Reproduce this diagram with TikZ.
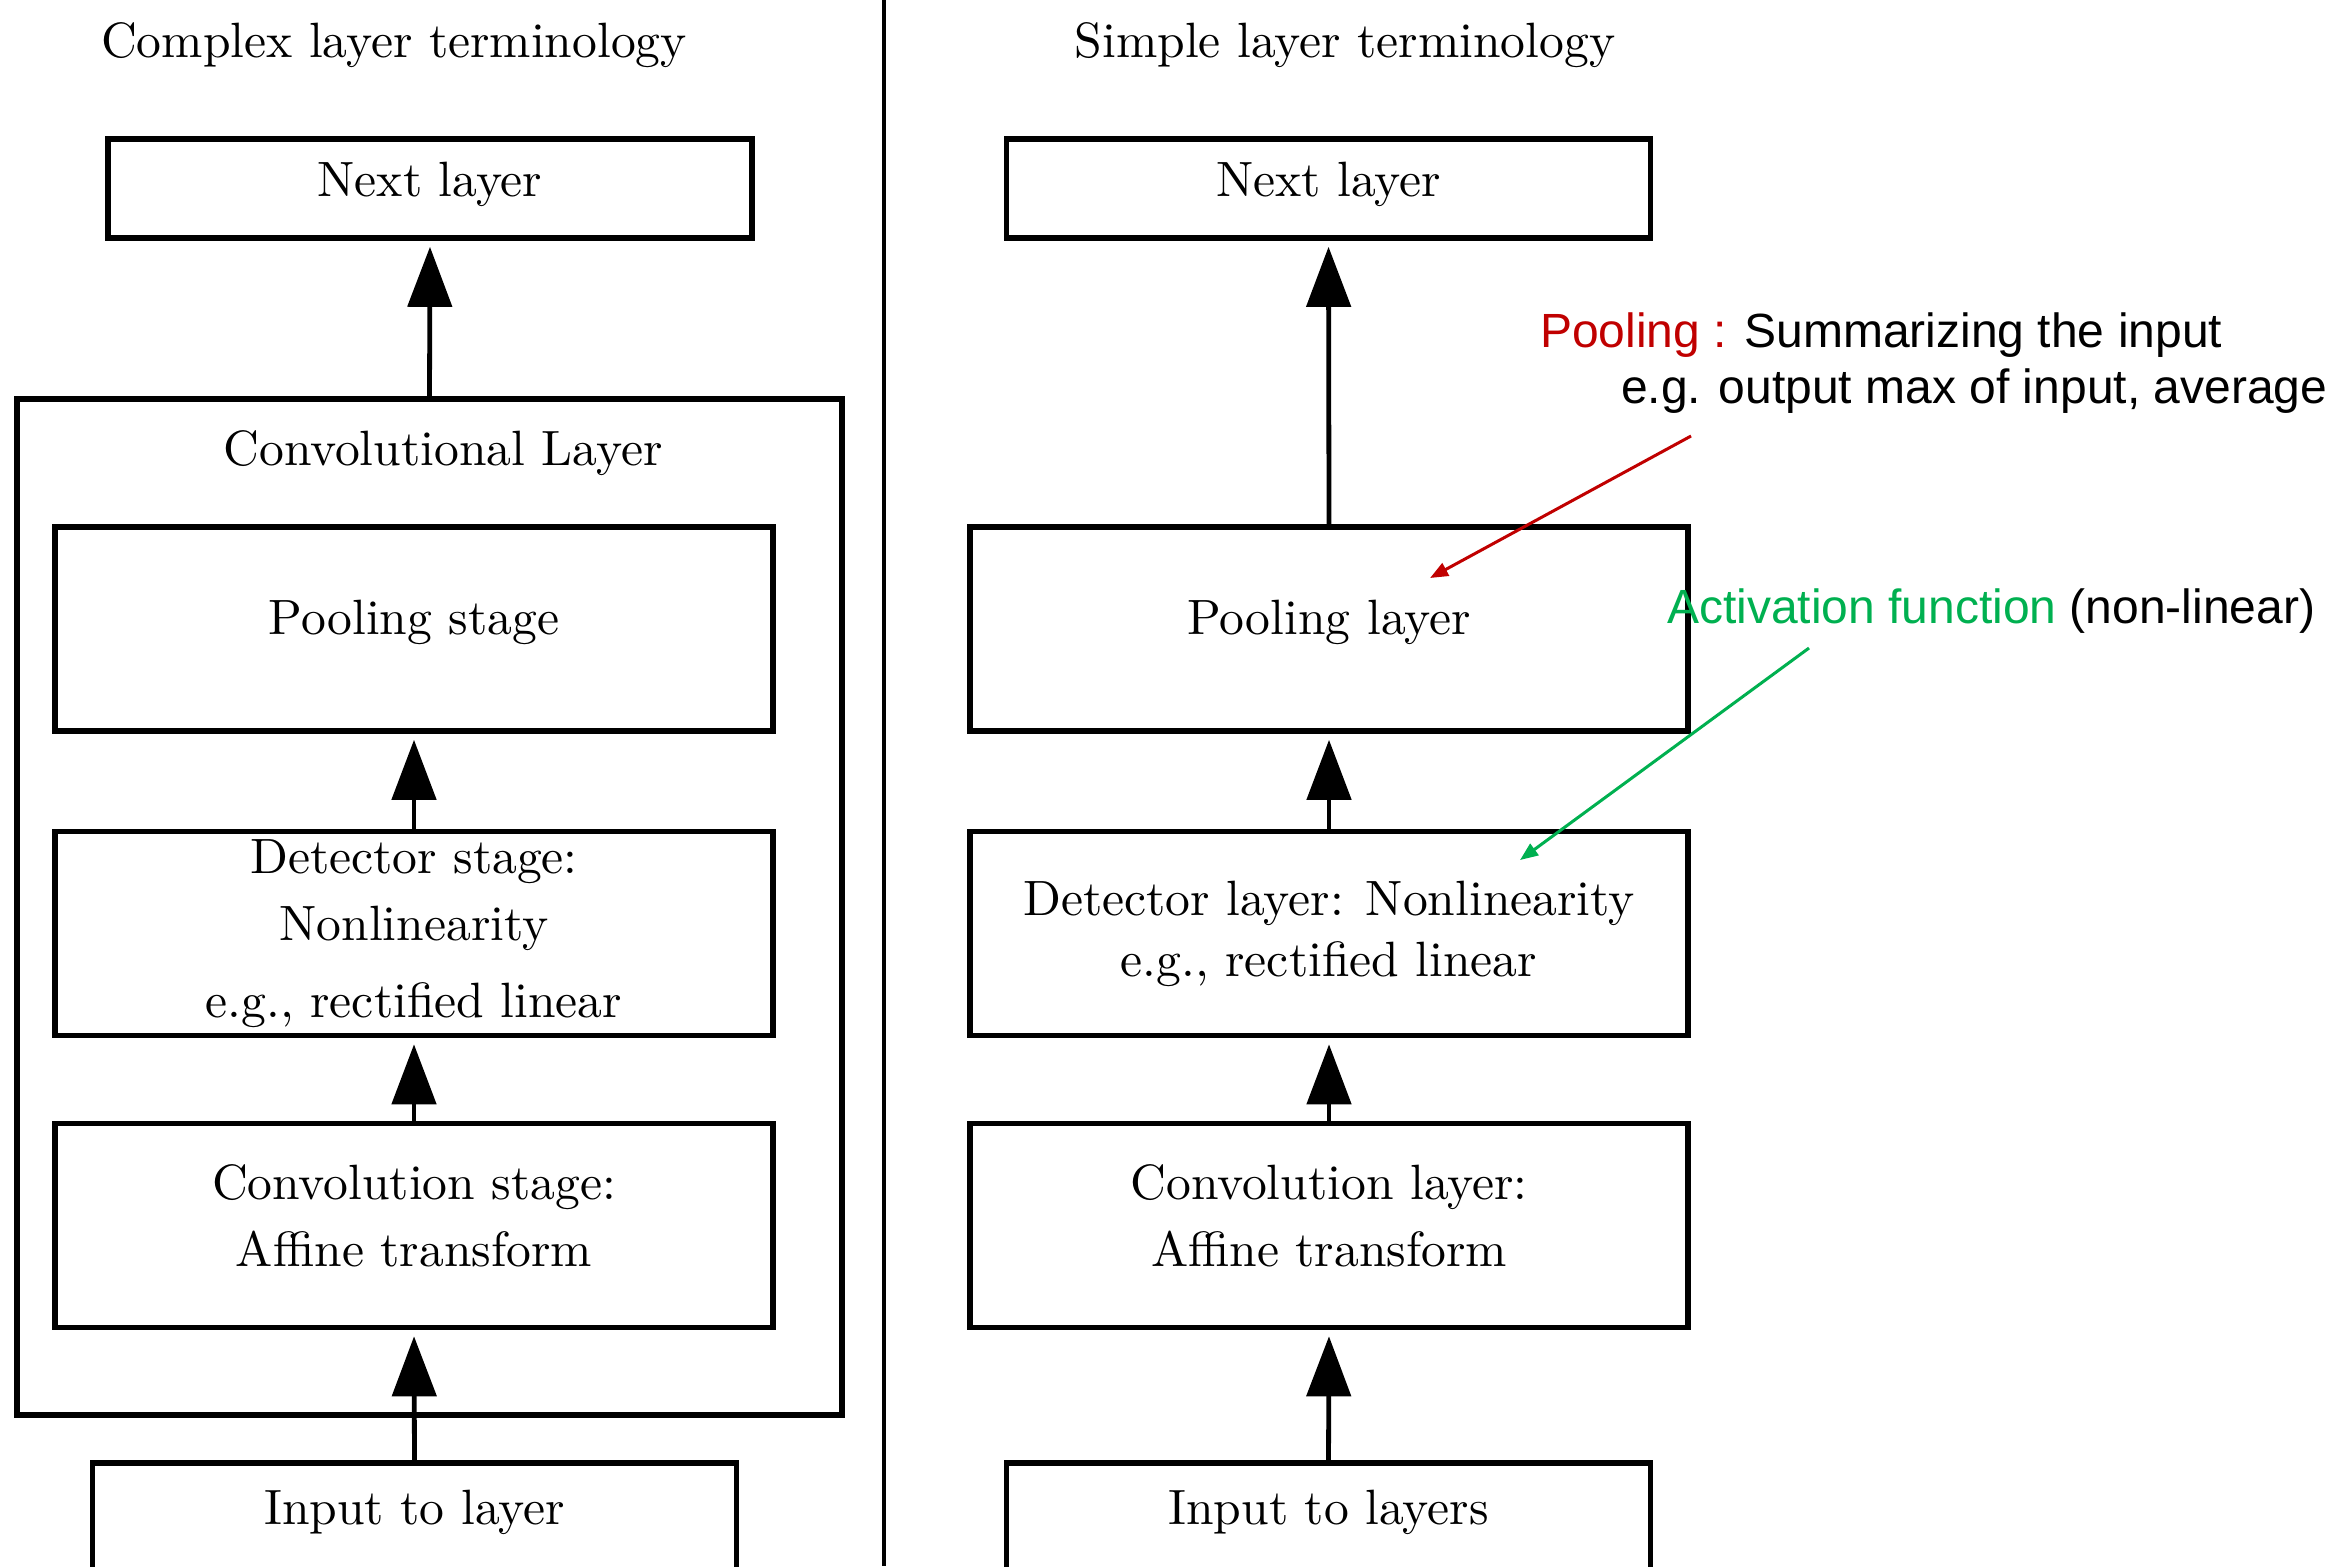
\documentclass[tikz,border=0pt]{standalone}
\usepackage{fontspec}
\newfontfamily\annotfont{Liberation Sans}
\newfontfamily\cmfont{lmroman10-regular}[Extension=.otf]
\usetikzlibrary{arrows.meta}
\definecolor{poolred}{HTML}{C00000}
\definecolor{actgreen}{HTML}{00B050}
\newcommand\cmtext{\cmfont\fontsize{12.4}{16.75}\selectfont}

\begin{document}
\begin{tikzpicture}[x=0.25pt,y=-0.25pt,
  every node/.style={inner sep=0pt, outer sep=0pt},
  frame/.style={draw, line width=1.3pt, align=center, font=\cmtext},
  stagebox/.style={frame, minimum width=179.5pt, minimum height=51pt},
  endbox/.style={frame, minimum width=161pt},
  heading/.style={font=\cmtext, anchor=base},
  flow/.style={line width=1.2pt, -{Triangle[length=15pt,width=11pt]}, shorten >=2.2pt},
  note/.style={font=\annotfont\fontsize{12}{14}\selectfont, anchor=base west},
  pointer/.style={line width=0.75pt, -{Triangle[length=4.5pt,width=3.5pt]}},
]
\clip (0,0) rectangle (2340,1566);
\useasboundingbox (0,0) rectangle (2340,1566);

% divider between the two columns
\draw[line width=1pt] (884,0) -- (884,1566);

% column headings
\node[heading] (ttlA) at (394,57) {Complex layer terminology};
\node[heading] (ttlB) at (1345,57) {Simple layer terminology};

% complex terminology
\node[endbox, minimum height=24.75pt, text height=8.6pt, text depth=4.4pt] (nextA) at (430,188.5) {Next layer};
\node[draw, line width=1.3pt, minimum width=206.25pt, minimum height=254pt] (convlayer) at (429.5,907) {};
\node[heading] (convtitle) at (443,465) {Convolutional Layer};
\node[stagebox, text height=8.6pt, text depth=6pt] (poolA) at (414,629) {Pooling stage};
\node[stagebox] (detA) at (414,933.5) {Detector stage:\\Nonlinearity\\[2.5pt]e.g., rectified linear};
\node[stagebox] (cnvA) at (414,1225.5) {Convolution stage:\\Affine transform\strut};
\node[endbox, minimum height=35pt, text height=8.6pt, text depth=13.1pt] (inA) at (414.5,1533) {Input to layer};

\draw[flow] (inA.north) -- (cnvA.south);
\draw[flow] (cnvA.north) -- (detA.south);
\draw[flow] (detA.north) -- (poolA.south);
\draw[flow] (convlayer.north) -- (nextA.south);

% simple terminology
\node[endbox, minimum height=24.75pt, text height=8.6pt, text depth=4.4pt] (nextB) at (1328.5,188.5) {Next layer};
\node[stagebox, text height=8.6pt, text depth=6pt] (poolB) at (1329,629) {Pooling layer};
\node[stagebox] (detB) at (1329,933.5) {Detector layer: Nonlinearity\\[-1.5pt]e.g., rectified linear};
\node[stagebox] (cnvB) at (1329,1225.5) {Convolution layer:\\Affine transform\strut};
\node[endbox, minimum height=35pt, text height=8.6pt, text depth=13.1pt] (inB) at (1328.5,1533) {Input to layers};

\draw[flow] (inB.north) -- (cnvB.south);
\draw[flow] (cnvB.north) -- (detB.south);
\draw[flow] (detB.north) -- (poolB.south);
\draw[flow] (poolB.north) -- (nextB.south);

% annotations
\node[note] (poolnote) at (1540,347) {\textcolor{poolred}{Pooling :} Summarizing the input};
\node[note] (poolnote2) at (1621,403) {e.g. output max of input, average};
\node[note] (actnote) at (1667,623) {\textcolor{actgreen}{Activation function} (non-linear)};

\coordinate (poolfrom) at (1691,436);
\coordinate (poolto) at (1430,578);
\coordinate (actfrom) at (1809,648);
\coordinate (actto) at (1520,860);
\draw[pointer, poolred] (poolfrom) -- (poolto);
\draw[pointer, actgreen] (actfrom) -- (actto);
\end{tikzpicture}
\end{document}
